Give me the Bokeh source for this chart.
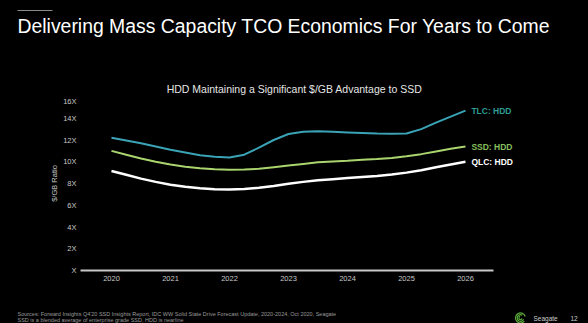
from bokeh.plotting import figure
from bokeh.models import Label, FixedTicker, Range1d, BoxAnnotation
from bokeh.layouts import column
from bokeh.embed import file_html
from bokeh.resources import INLINE

# ---- data (quarter-year readings) ----
years = [2020, 2020.25, 2020.5, 2020.75, 2021, 2021.25, 2021.5, 2021.75,
         2022, 2022.25, 2022.5, 2022.75, 2023, 2023.25, 2023.5, 2023.75,
         2024, 2024.25, 2024.5, 2024.75, 2025, 2025.25, 2025.5, 2025.75, 2026]
tlc_hdd = [12.2, 11.95, 11.7, 11.4, 11.1, 10.85, 10.6, 10.45,
           10.4, 10.65, 11.3, 12.0, 12.55, 12.75, 12.8, 12.75,
           12.7, 12.65, 12.6, 12.57, 12.6, 13.0, 13.6, 14.15, 14.7]
ssd_hdd = [11.0, 10.65, 10.3, 10.0, 9.75, 9.55, 9.4, 9.3,
           9.26, 9.28, 9.35, 9.5, 9.65, 9.8, 9.95, 10.03,
           10.1, 10.18, 10.25, 10.35, 10.5, 10.7, 10.95, 11.2, 11.4]
qlc_hdd = [9.15, 8.8, 8.45, 8.15, 7.88, 7.7, 7.57, 7.48,
           7.45, 7.5, 7.6, 7.78, 7.97, 8.15, 8.3, 8.4,
           8.5, 8.6, 8.7, 8.83, 9.0, 9.22, 9.5, 9.75, 10.0]
series_names = ["TLC: HDD", "SSD: HDD", "QLC: HDD"]
x_ticks = [2020, 2021, 2022, 2023, 2024, 2025, 2026]
y_ticks = [0, 2, 4, 6, 8, 10, 12, 14, 16]
y_tick_labels = ["X", "2X", "4X", "6X", "8X", "10X", "12X", "14X", "16X"]

FONT = "Liberation Sans"
BG_STYLE = {"background-color": "black"}
BASE_FIX = 0.43  # alphabetic-baseline correction (fraction of font size)


def blank_fig(h):
    f = figure(width=588, height=h, output_backend="svg", toolbar_location=None,
               x_range=Range1d(0, 588), y_range=Range1d(0, h),
               x_axis_type=None, y_axis_type=None,
               min_border_left=0, min_border_right=0, min_border_top=0, min_border_bottom=0,
               background_fill_color=None, border_fill_color=None, styles=BG_STYLE)
    f.outline_line_color = None
    f.grid.visible = False
    f.frame_align = False
    return f


def text_label(fig, fig_top, fig_h, cx, cy, text, fs, **kw):
    """cx, cy: canvas pixel position of the text baseline."""
    fig.add_layout(Label(x=cx, y=fig_top + fig_h - cy + BASE_FIX * fs,
                         x_units="screen", y_units="screen", text=text,
                         text_font=FONT, text_font_size=f"{fs}px",
                         text_baseline="alphabetic", **kw))


# ---------- header (canvas rows 0..96) ----------
TOP_H = 96
top = blank_fig(TOP_H)
top.add_layout(BoxAnnotation(left=17, right=52, bottom=TOP_H - 10.5, top=TOP_H - 9.5,
                             left_units="screen", right_units="screen",
                             bottom_units="screen", top_units="screen",
                             fill_color="#8a8a8a", fill_alpha=1, line_color=None))
text_label(top, 0, TOP_H, 17, 33.5, "Delivering Mass Capacity TCO Economics For Years to Come",
           19.4, text_color="#ffffff")
text_label(top, 0, TOP_H, 294, 93.5, "HDD Maintaining a Significant $/GB Advantage to SSD",
           10.5, text_color="#e6e6e6", text_align="center")

# ---------- main chart (canvas rows 96..290, frame 96..270, x 80..588) ----------
p = figure(width=588, height=194, output_backend="svg", toolbar_location=None,
           x_range=Range1d(2019.475, 2019.475 + 508 / 59), y_range=Range1d(0, 16),
           min_border_left=80, min_border_right=0, min_border_top=0, min_border_bottom=20,
           background_fill_color=None, border_fill_color=None, styles=BG_STYLE)
p.outline_line_color = None
p.grid.visible = False
p.frame_align = False

xa = p.xaxis[0]
xa.ticker = FixedTicker(ticks=x_ticks)
xa.bounds = (2019.475, 2026.475)
xa.axis_line_color = "#c8c8c8"
xa.axis_line_width = 2
xa.major_tick_line_color = None
xa.minor_tick_line_color = None
xa.major_tick_out = 0
xa.major_tick_in = 0
xa.minor_tick_out = 0
xa.major_label_text_color = "#c8c8c8"
xa.major_label_text_font = FONT
xa.major_label_text_font_size = "7.5px"
xa.major_label_standoff = 5

ya = p.yaxis[0]
ya.ticker = FixedTicker(ticks=y_ticks)
ya.major_label_overrides = {t: l for t, l in zip(y_ticks, y_tick_labels)}
ya.axis_line_color = None
ya.major_tick_line_color = None
ya.minor_tick_line_color = None
ya.major_tick_out = 0
ya.major_tick_in = 0
ya.minor_tick_out = 0
ya.major_label_text_color = "#c8c8c8"
ya.major_label_text_font = FONT
ya.major_label_text_font_size = "7.5px"
ya.major_label_standoff = 4
ya.axis_label = "$/GB Ratio"
ya.axis_label_text_color = "#c8c8c8"
ya.axis_label_text_font = FONT
ya.axis_label_text_font_size = "7.5px"
ya.axis_label_text_font_style = "normal"
ya.axis_label_standoff = 1

p.line(years, tlc_hdd, line_color="#3aa3b6", line_width=2)
p.line(years, ssd_hdd, line_color="#a9d46e", line_width=2)
p.line(years, qlc_hdd, line_color="#ffffff", line_width=2.5)

for name, yv, col in zip(series_names, [tlc_hdd[-1], ssd_hdd[-1], qlc_hdd[-1]],
                         ["#2f9c94", "#86bf5c", "#ffffff"]):
    p.add_layout(Label(x=2026.1, y=yv, text=name, text_color=col, text_font=FONT,
                       text_font_size="8.5px", text_font_style="bold",
                       text_baseline="middle", text_align="left"))

# ---------- footer (canvas rows 290..323) ----------
FOOT_TOP = 290
FOOT_H = 33
foot = blank_fig(FOOT_H)

text_label(foot, FOOT_TOP, FOOT_H, 17, 315.5,
           "Sources: Forward Insights Q4'20 SSD Insights Report, IDC WW Solid State Drive Forecast Update, 2020-2024, Oct 2020, Seagate",
           5.5, text_color="#9a9a9a")
text_label(foot, FOOT_TOP, FOOT_H, 17, 321.5,
           "SSD is a blended average of enterprise grade SSD, HDD is nearline",
           5.5, text_color="#9a9a9a")
text_label(foot, FOOT_TOP, FOOT_H, 533, 320.5, "Seagate", 6.5, text_color="#cccccc")
text_label(foot, FOOT_TOP, FOOT_H, 570, 320.5, "12", 6.5, text_color="#cccccc")
# logo swirl
foot.arc(x=[520, 520, 520], y=[FOOT_TOP + FOOT_H - 317.5] * 3, radius=[5, 3.3, 1.6],
         start_angle=[0.3, 1.0, 1.8], end_angle=[5.6, 5.9, 6.0],
         line_color="#5aa83a", line_width=1.2)

layout = column(top, p, foot, spacing=0, styles=BG_STYLE)
open("out.html", "w").write(file_html(layout, INLINE))
